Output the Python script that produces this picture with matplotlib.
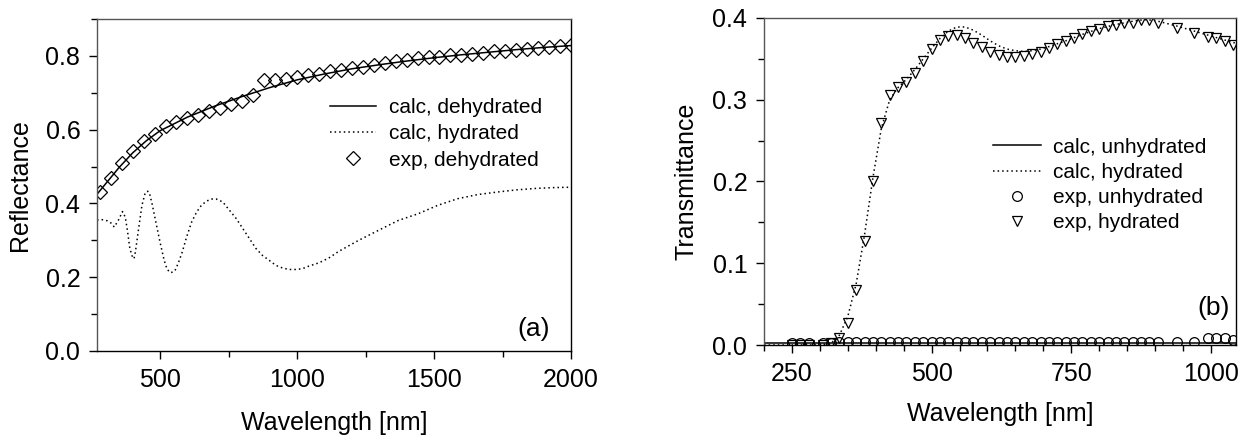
import numpy as np
import matplotlib
matplotlib.use("Agg")
import matplotlib.pyplot as plt
from matplotlib.ticker import MultipleLocator

plt.rcParams['font.family'] = ['Liberation Sans', 'DejaVu Sans']

# (a) reflectance
wl_exp_a = np.arange(280, 2001, 40)
r_exp_dehyd = [0.430, 0.469, 0.509, 0.541, 0.568, 0.588, 0.610, 0.621, 0.631, 0.641,
               0.650, 0.660, 0.669, 0.678, 0.695, 0.734, 0.735, 0.738, 0.744, 0.747,
               0.752, 0.758, 0.762, 0.767, 0.771, 0.776, 0.781, 0.785, 0.789, 0.793,
               0.796, 0.798, 0.802, 0.803, 0.805, 0.809, 0.812, 0.814, 0.816, 0.818,
               0.822, 0.824, 0.828, 0.830]

wl_calc_dehyd = [270, 300, 350, 400, 450, 500, 600, 700, 800, 900, 1000, 1100, 1200,
                 1300, 1400, 1500, 1600, 1700, 1800, 1900, 2000]
r_calc_dehyd = [0.425, 0.452, 0.497, 0.537, 0.570, 0.597, 0.634, 0.664, 0.690, 0.714,
                0.735, 0.751, 0.765, 0.776, 0.786, 0.795, 0.803, 0.810, 0.817, 0.823, 0.828]

wl_calc_hyd = [270, 289, 307, 321, 333, 349, 363, 373, 381, 389, 397, 405, 410, 421, 434,
               446, 455, 461, 471, 486, 500, 515, 526, 539, 554, 566, 581, 597, 615, 633,
               651, 669, 687, 705, 729, 754, 778, 802, 826, 850, 874, 898, 923, 947, 971,
               995, 1019, 1043, 1080, 1116, 1152, 1225, 1297, 1370, 1442, 1514, 1587,
               1659, 1732, 1804, 1877, 1940, 2000]
r_calc_hyd = [0.355, 0.356, 0.353, 0.347, 0.336, 0.356, 0.378, 0.363, 0.327, 0.282, 0.259,
              0.250, 0.268, 0.327, 0.395, 0.429, 0.433, 0.429, 0.399, 0.345, 0.295, 0.246,
              0.221, 0.212, 0.217, 0.237, 0.268, 0.309, 0.349, 0.376, 0.395, 0.406, 0.412,
              0.412, 0.404, 0.381, 0.359, 0.332, 0.305, 0.278, 0.259, 0.246, 0.232, 0.225,
              0.221, 0.221, 0.223, 0.230, 0.239, 0.252, 0.270, 0.300, 0.327, 0.354, 0.372,
              0.395, 0.413, 0.424, 0.431, 0.437, 0.441, 0.443, 0.444]

# (b) transmittance
wl_exp_b = [250, 265, 280, 305, 320, 335, 350, 365, 380, 395, 410, 425, 440, 455, 470,
            485, 500, 515, 530, 545, 560, 575, 590, 605, 620, 635, 650, 665, 680, 695,
            710, 725, 740, 755, 770, 785, 800, 815, 830, 845, 860, 875, 890, 905, 940,
            970, 995, 1010, 1025, 1040]
t_exp_hyd = [0.0, 0.0, 0.0, 0.0, 0.002, 0.009, 0.027, 0.067, 0.127, 0.201, 0.272, 0.306,
             0.316, 0.322, 0.333, 0.347, 0.362, 0.373, 0.378, 0.379, 0.375, 0.370, 0.364,
             0.359, 0.355, 0.352, 0.352, 0.353, 0.356, 0.359, 0.363, 0.368, 0.372, 0.376,
             0.380, 0.384, 0.387, 0.390, 0.392, 0.394, 0.394, 0.398, 0.398, 0.394, 0.388,
             0.382, 0.377, 0.376, 0.372, 0.367]
t_exp_unhyd = [0.002, 0.002, 0.002, 0.002, 0.003, 0.004, 0.004, 0.004, 0.004, 0.004,
               0.004, 0.004, 0.004, 0.004, 0.004, 0.004, 0.004, 0.004, 0.004, 0.004,
               0.004, 0.004, 0.004, 0.004, 0.004, 0.004, 0.004, 0.004, 0.004, 0.004,
               0.004, 0.004, 0.004, 0.004, 0.004, 0.004, 0.004, 0.004, 0.004, 0.004,
               0.004, 0.004, 0.004, 0.004, 0.004, 0.004, 0.009, 0.009, 0.008, 0.006]

wl_calc_b = [200, 300, 320, 335, 350, 365, 380, 395, 410, 425, 440, 455, 470, 485, 500,
             515, 530, 545, 560, 575, 590, 605, 620, 635, 650, 665, 680, 695, 710, 740,
             770, 800, 830, 860, 880, 900, 940, 970, 1000, 1020, 1045]
t_calc_hyd = [0.0, 0.0, 0.002, 0.012, 0.035, 0.075, 0.135, 0.205, 0.265, 0.300, 0.315,
              0.325, 0.337, 0.350, 0.363, 0.375, 0.384, 0.389, 0.389, 0.385, 0.379, 0.372,
              0.366, 0.362, 0.360, 0.359, 0.360, 0.362, 0.365, 0.372, 0.380, 0.387, 0.392,
              0.396, 0.398, 0.397, 0.390, 0.384, 0.378, 0.374, 0.369]
t_calc_unhyd = [0.002] * len(wl_calc_b)

dots = (0, (1, 2))
fig = plt.figure(figsize=(12.47, 4.4), dpi=100)
ax1 = fig.add_axes([0.0778, 0.2023, 0.3801, 0.7545])
ax2 = fig.add_axes([0.6127, 0.2159, 0.3785, 0.7432])

ax1.plot(wl_calc_dehyd, r_calc_dehyd, color='black', lw=1.1, label='calc, dehydrated')
ax1.plot(wl_calc_hyd, r_calc_hyd, color='black', lw=1.1, ls=dots, label='calc, hydrated')
ax1.plot(wl_exp_a, r_exp_dehyd, ls='none', marker='D', ms=7, mfc='none', mec='black',
         mew=0.9, label='exp, dehydrated')
ax1.set_xlim(270, 2000)
ax1.set_ylim(0, 0.9)
ax1.xaxis.set_major_locator(MultipleLocator(500))
ax1.xaxis.set_minor_locator(MultipleLocator(250))
ax1.yaxis.set_major_locator(MultipleLocator(0.2))
ax1.yaxis.set_minor_locator(MultipleLocator(0.1))
ax1.set_xlabel('Wavelength [nm]', fontsize=18, labelpad=14)
ax1.set_ylabel('Reflectance', fontsize=18, labelpad=10)
ax1.text(0.956, 0.066, '(a)', transform=ax1.transAxes, fontsize=19, ha='right', va='center')
ax1.legend(loc='center right', bbox_to_anchor=(0.96, 0.654), frameon=False, fontsize=15,
           borderpad=0, labelspacing=0.35, handlelength=2.2, handletextpad=0.6, numpoints=1)

ax2.plot(wl_calc_b, t_calc_unhyd, color='black', lw=1.1, label='calc, unhydrated')
ax2.plot(wl_calc_b, t_calc_hyd, color='black', lw=1.1, ls=dots, label='calc, hydrated')
ax2.plot(wl_exp_b, t_exp_unhyd, ls='none', marker='o', ms=7, mfc='none', mec='black',
         mew=0.9, label='exp, unhydrated')
ax2.plot(wl_exp_b, t_exp_hyd, ls='none', marker='v', ms=7, mfc='none', mec='black',
         mew=0.9, label='exp, hydrated')
ax2.set_xlim(200, 1045)
ax2.set_ylim(0, 0.4)
ax2.xaxis.set_major_locator(MultipleLocator(250))
ax2.xaxis.set_minor_locator(MultipleLocator(50))
ax2.yaxis.set_major_locator(MultipleLocator(0.1))
ax2.yaxis.set_minor_locator(MultipleLocator(0.05))
ax2.set_xlabel('Wavelength [nm]', fontsize=18, labelpad=12)
ax2.set_ylabel('Transmittance', fontsize=18, labelpad=10)
ax2.text(0.987, 0.113, '(b)', transform=ax2.transAxes, fontsize=19, ha='right', va='center')
ax2.legend(loc='center right', bbox_to_anchor=(0.96, 0.489), frameon=False, fontsize=15,
           borderpad=0, labelspacing=0.3, handlelength=2.3, handletextpad=0.6, numpoints=1)

for ax in (ax1, ax2):
    ax.tick_params(which='major', direction='out', length=6, width=1, labelsize=18, pad=6)
    ax.tick_params(which='minor', direction='out', length=4, width=1)
    for s in ('left', 'top'):
        ax.spines[s].set_color('#555555')
    for s in ('right', 'bottom'):
        ax.spines[s].set_color('black')
    for s in ax.spines.values():
        s.set_linewidth(1.0)

fig.savefig('out.png', dpi=100)
